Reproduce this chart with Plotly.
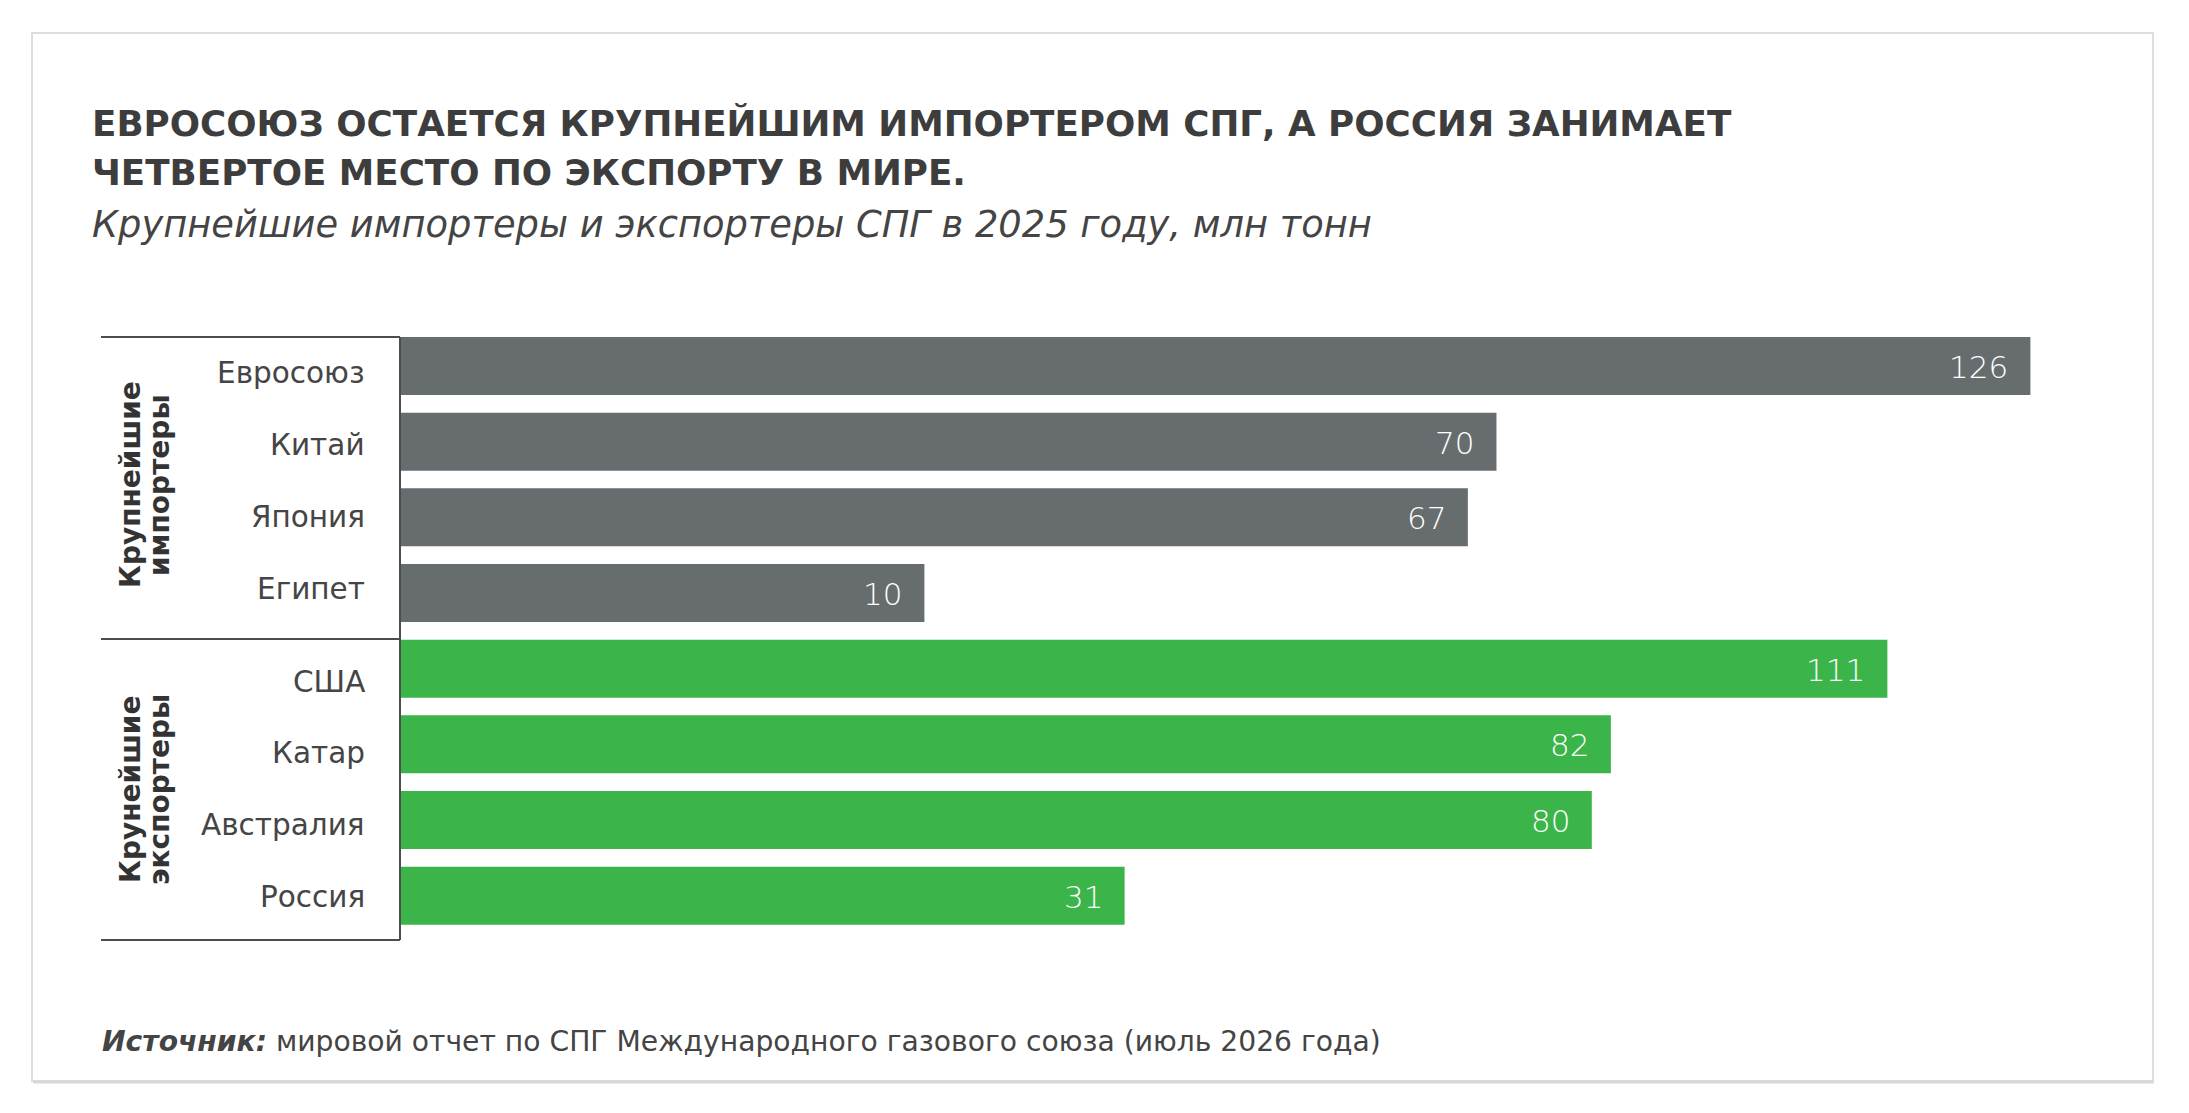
import plotly.graph_objects as go

# Крупнейшие импортеры и экспортеры СПГ в 2025 году, млн тонн
countries = ["Евросоюз", "Китай", "Япония", "Египет", "США", "Катар", "Австралия", "Россия"]
volumes = [126, 70, 67, 10, 111, 82, 80, 31]
group_of = ["imp", "imp", "imp", "imp", "exp", "exp", "exp", "exp"]
group_titles = {"imp": ["Крупнейшие", "импортеры"], "exp": ["Крунейшие", "экспортеры"]}

title_lines = ["ЕВРОСОЮЗ ОСТАЕТСЯ КРУПНЕЙШИМ ИМПОРТЕРОМ СПГ, А РОССИЯ ЗАНИМАЕТ",
               "ЧЕТВЕРТОЕ МЕСТО ПО ЭКСПОРТУ В МИРЕ."]
subtitle = "Крупнейшие импортеры и экспортеры СПГ в 2025 году, млн тонн"
source = "<b><i>Источник:</i></b> мировой отчет по СПГ Международного газового союза (июль 2026 года)"

colors = {"imp": "#676d6e", "exp": "#3bb54a"}
FONT = "DejaVu Sans"
TEXT = "#3d3d3d"
LINE = "#4d4d4d"

# page size and plot area in page pixels (the html body adds an 8px margin)
W, H = 2189, 1113
BODY = 8
L, R, T, B = 400, 2100, 337, 940
AXIS_START = -45      # bars in the original do not start at zero
XMAX = 133.3

# country labels sit on their own slightly tighter grid inside each group
LABEL_PITCH = {"imp": 0.951, "exp": 0.946}
LABEL_START = {"imp": 0.093, "exp": 0.175}


def px(x):
    return (x - L) / (R - L)


def py(y):
    return (B - y) / (B - T)


rows = list(range(len(countries)))

fig = go.Figure()
fig.add_trace(go.Bar(
    y=rows,
    x=[v - AXIS_START for v in volumes],
    base=AXIS_START,
    orientation="h",
    width=0.766,
    marker=dict(color=[colors[g] for g in group_of], line=dict(width=0)),
    hoverinfo="skip",
))

ann = []
# values inside the bars
for i, v in enumerate(volumes):
    ann.append(dict(x=v, y=i, xref="x", yref="y", text=str(v), showarrow=False,
                    xanchor="right", xshift=-20, yshift=-1,
                    font=dict(family=FONT, size=31, color="white", weight=300)))
# country labels
for i, c in enumerate(countries):
    g = group_of[i]
    first = group_of.index(g)
    ann.append(dict(x=0, y=first + LABEL_START[g] + (i - first) * LABEL_PITCH[g],
                    xref="paper", yref="y", text=c, showarrow=False,
                    xanchor="right", xshift=-33,
                    font=dict(family=FONT, size=29.5, color="#454545")))
# group labels, rotated
for g, yc in (("imp", 485), ("exp", 790)):
    for line, xc in zip(group_titles[g], (130, 159)):
        ann.append(dict(x=px(xc), y=py(yc), xref="paper", yref="paper", text=line,
                        showarrow=False, textangle=-90, xanchor="center", yanchor="middle",
                        font=dict(family=FONT, size=28, color="#333333", weight=700)))
# title, subtitle, source
for k, line in enumerate(title_lines):
    ann.append(dict(x=px(90), y=py(123 + 50 * k), xref="paper", yref="paper", text=line,
                    showarrow=False, xanchor="left", yanchor="middle",
                    font=dict(family=FONT, size=35.7, color=TEXT, weight=700)))
ann.append(dict(x=px(90), y=py(224), xref="paper", yref="paper", text="<i>" + subtitle + "</i>",
                showarrow=False, xanchor="left", yanchor="middle",
                font=dict(family=FONT, size=36.8, color="#444444", weight=300)))
ann.append(dict(x=px(100), y=py(1041), xref="paper", yref="paper", text=source,
                showarrow=False, xanchor="left", yanchor="middle",
                font=dict(family=FONT, size=28.2, color="#444444")))

shapes = [
    # card
    dict(type="rect", xref="paper", yref="paper", x0=px(32), x1=px(2153), y0=py(33), y1=py(1081),
         line=dict(color="#dddddd", width=2), layer="below"),
    dict(type="line", xref="paper", yref="paper", x0=px(33), x1=px(2154), y0=py(1082), y1=py(1082),
         line=dict(color="#d8d8d8", width=3), layer="below"),
    # frame of the label column
    dict(type="line", xref="paper", yref="paper", x0=px(400), x1=px(400), y0=py(337), y1=py(940),
         line=dict(color=LINE, width=2)),
]
for yy in (337, 639, 940):
    shapes.append(dict(type="line", xref="paper", yref="paper", x0=px(101), x1=px(400),
                       y0=py(yy), y1=py(yy), line=dict(color=LINE, width=2)))

fig.update_layout(
    width=W - 2 * BODY, height=H - 2 * BODY,
    margin=dict(l=L - BODY, r=W - BODY - R, t=T - BODY, b=H - BODY - B),
    paper_bgcolor="white", plot_bgcolor="white",
    showlegend=False,
    xaxis=dict(range=[AXIS_START, XMAX], visible=False, fixedrange=True),
    yaxis=dict(range=[7.586, -0.383], visible=False, fixedrange=True),
    annotations=ann,
    shapes=shapes,
    font=dict(family=FONT),
)

fig.write_html("out.html", config={"displayModeBar": False})
